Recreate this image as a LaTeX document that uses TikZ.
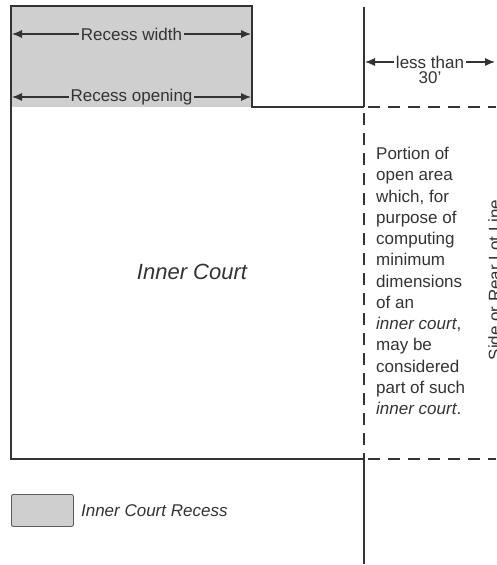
\documentclass[tikz,border=0pt]{standalone}
\usepackage{fontspec}
\setmainfont{Liberation Sans}
\usetikzlibrary{arrows.meta,positioning}
\definecolor{recessgray}{HTML}{CFCFCF}
\definecolor{wallgray}{HTML}{333333}
\begin{document}
\begin{tikzpicture}[x=1pt,y=-1pt,
    wall/.style={draw=wallgray,line width=1.8pt},
    lotline/.style={draw=wallgray,line width=1.4pt,dash pattern=on 12pt off 8pt},
    dim/.style={{Latex[length=10pt,width=8pt]}-{Latex[length=10pt,width=8pt]},draw=wallgray,line width=1.1pt},
    lbl/.style={font=\fontsize{17}{21.25}\selectfont,text=wallgray,inner sep=2pt}]
  \useasboundingbox (0,0) rectangle (496,565);

  % Define the corners
  \coordinate (rtl) at (11,6);
  \coordinate (rtr) at (252,6);
  \coordinate (rbr) at (252,107);
  \coordinate (cbl) at (11,459);
  \coordinate (cbr) at (364,459);
  \coordinate (ltop) at (364,7);
  \coordinate (lmid) at (364,107);
  \coordinate (lbot) at (364,564);
  \coordinate (eup) at (496,107);
  \coordinate (edn) at (496,459);

  % Draw the recess and the court
  \fill[recessgray] (rtl) rectangle (rbr);
  \draw[wall] (lmid) -- (rbr) -- (rtr) -- (rtl) -- (cbl) -- (cbr);
  \draw[wall] (ltop) -- (lmid);
  \draw[wall] (cbr) -- (lbot);
  \draw[lotline,dash phase=-6pt] (lmid) -- (cbr);
  \draw[lotline,dash phase=-4pt] (lmid) -- (eup);
  \draw[lotline,dash phase=-4pt] (cbr) -- (edn);

  % Dimensions
  \coordinate (wl) at (12,34);
  \coordinate (wr) at (251,34);
  \coordinate (ol) at (12,97);
  \coordinate (or) at (251,97);
  \coordinate (ll) at (365,62);
  \coordinate (lr) at (495,62);
  \draw[dim] (wl) -- node[lbl,fill=recessgray] (width) {Recess width} (wr);
  \draw[dim] (ol) -- node[lbl,fill=recessgray] (opening) {Recess opening} (or);
  \draw[dim] (ll) -- node[lbl,fill=white] (less) {less than} (lr);
  \node[lbl,inner sep=0pt,below=1pt of less] (thirty) {30'};

  % Texts
  \node[lbl,font=\fontsize{22}{26}\selectfont\itshape] (court) at (192,272) {Inner Court};
  \node[lbl,inner sep=0pt,anchor=north west,align=left] (portion) at (376,147)
    {Portion of\\open area\\which, for\\purpose of\\computing\\minimum\\dimensions\\of an\\
     \textit{inner court},\\may be\\considered\\part of such\\\textit{inner court}.};
  \node[lbl,inner sep=0pt,rotate=90,anchor=north] (lot) at (488,280) {Side or Rear Lot Line};

  % Legend
  \node[draw=wallgray!80,line width=0.9pt,fill=recessgray,rounded corners=2pt,
        minimum width=62pt,minimum height=32pt,anchor=north west] (legbox) at (11,494) {};
  \node[lbl,font=\fontsize{17}{21}\selectfont\itshape,right=5pt of legbox] (legtext) {Inner Court Recess};
\end{tikzpicture}
\end{document}
